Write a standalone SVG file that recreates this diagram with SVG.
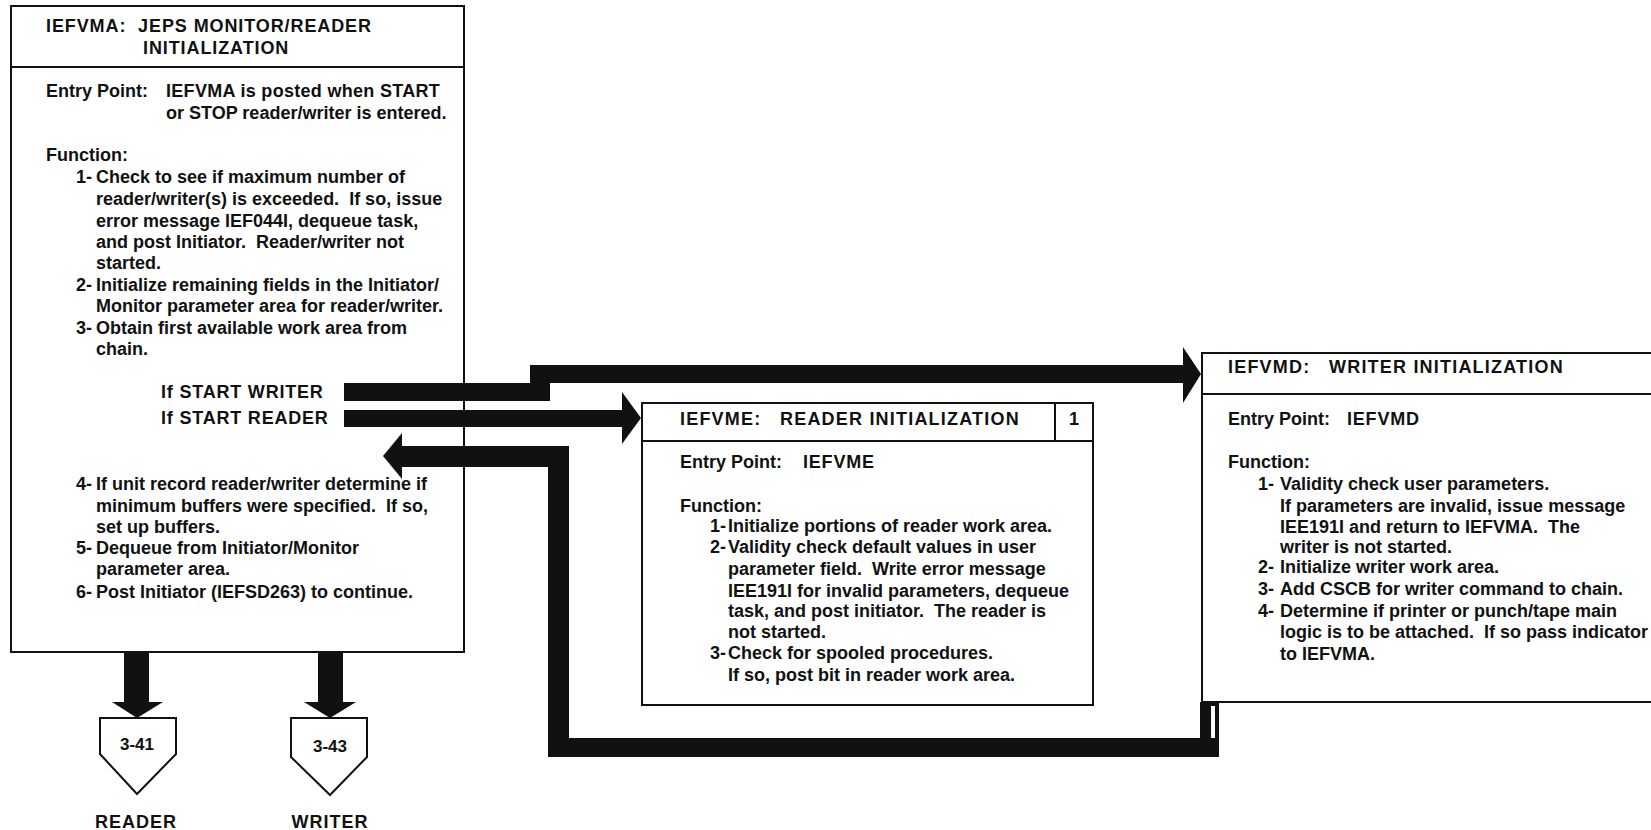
<svg xmlns="http://www.w3.org/2000/svg" width="1651" height="830" viewBox="0 0 1651 830">
  <style>
    text { font-family: "Liberation Sans", Arial, sans-serif; font-weight: bold; font-size: 18px; fill: #111; white-space: pre; }
    .title { letter-spacing: 1.2px; }
    .caps { letter-spacing: 0.8px; }
    .tight { letter-spacing: 0.3px; }
    .lbl { font-size: 17px; text-anchor: middle; }
    .foot { text-anchor: middle; letter-spacing: 1px; }
    .box { fill: #fff; stroke: #111; stroke-width: 2; }
    .rule { stroke: #111; stroke-width: 2; fill: none; }
    .bar { fill: #111; }
  </style>

  <!-- IEFVMA: monitor/reader initialization -->
  <g id="iefvma">
    <rect class="box" x="11" y="6" width="453" height="646"/>
    <line class="rule" x1="11" y1="67" x2="464" y2="67"/>
    <text class="title" x="46" y="32" style="letter-spacing:0.9px">IEFVMA:  JEPS MONITOR/READER</text>
    <text class="title" x="143" y="54" style="letter-spacing:0.9px">INITIALIZATION</text>
    <text x="46" y="97">Entry Point:</text>
    <text x="166" y="97" class="tight">IEFVMA is posted when START</text>
    <text x="166" y="119">or STOP reader/writer is entered.</text>
    <text x="46" y="161">Function:</text>
    <text x="76" y="183">1-<tspan x="96">Check to see if maximum number of</tspan></text>
    <text x="96" y="205">reader/writer(s) is exceeded.  If so, issue</text>
    <text x="96" y="227">error message IEF044I, dequeue task,</text>
    <text x="96" y="248">and post Initiator.  Reader/writer not</text>
    <text x="96" y="269">started.</text>
    <text x="76" y="291">2-<tspan x="96">Initialize remaining fields in the Initiator/</tspan></text>
    <text x="96" y="312">Monitor parameter area for reader/writer.</text>
    <text x="76" y="334">3-<tspan x="96">Obtain first available work area from</tspan></text>
    <text x="96" y="355">chain.</text>
    <text x="161" y="398" class="caps">If START WRITER</text>
    <text x="161" y="424" class="caps">If START READER</text>
    <text x="76" y="490">4-<tspan x="96">If unit record reader/writer determine if</tspan></text>
    <text x="96" y="512">minimum buffers were specified.  If so,</text>
    <text x="96" y="533">set up buffers.</text>
    <text x="76" y="554">5-<tspan x="96">Dequeue from Initiator/Monitor</tspan></text>
    <text x="96" y="575">parameter area.</text>
    <text x="76" y="598">6-<tspan x="96">Post Initiator (IEFSD263) to continue.</tspan></text>
  </g>

  <!-- IEFVME: reader initialization -->
  <g id="iefvme">
    <rect class="box" x="642" y="403" width="451" height="302"/>
    <line class="rule" x1="642" y1="441" x2="1093" y2="441"/>
    <line class="rule" x1="1055" y1="403" x2="1055" y2="441"/>
    <text class="title" x="680" y="425">IEFVME:   READER INITIALIZATION</text>
    <text x="1074" y="425" text-anchor="middle">1</text>
    <text x="680" y="468">Entry Point:</text>
    <text x="803" y="468" class="caps">IEFVME</text>
    <text x="680" y="512">Function:</text>
    <text x="710" y="532">1-<tspan x="728">Initialize portions of reader work area.</tspan></text>
    <text x="710" y="553">2-<tspan x="728">Validity check default values in user</tspan></text>
    <text x="728" y="575">parameter field.  Write error message</text>
    <text x="728" y="597">IEE191I for invalid parameters, dequeue</text>
    <text x="728" y="617">task, and post initiator.  The reader is</text>
    <text x="728" y="638">not started.</text>
    <text x="710" y="659">3-<tspan x="728">Check for spooled procedures.</tspan></text>
    <text x="728" y="681">If so, post bit in reader work area.</text>
  </g>

  <!-- IEFVMD: writer initialization (runs off the right edge) -->
  <g id="iefvmd">
    <rect x="1202" y="353" width="460" height="349" fill="#fff"/>
    <polyline class="rule" points="1660,353 1202,353 1202,702 1660,702"/>
    <line class="rule" x1="1202" y1="394" x2="1660" y2="394"/>
    <text class="title" x="1228" y="373">IEFVMD:   WRITER INITIALIZATION</text>
    <text x="1228" y="425">Entry Point:</text>
    <text x="1347" y="425" class="caps">IEFVMD</text>
    <text x="1228" y="468">Function:</text>
    <text x="1258" y="490">1-<tspan x="1280">Validity check user parameters.</tspan></text>
    <text x="1280" y="512">If parameters are invalid, issue message</text>
    <text x="1280" y="533">IEE191I and return to IEFVMA.  The</text>
    <text x="1280" y="553">writer is not started.</text>
    <text x="1258" y="573">2-<tspan x="1280">Initialize writer work area.</tspan></text>
    <text x="1258" y="595">3-<tspan x="1280">Add CSCB for writer command to chain.</tspan></text>
    <text x="1258" y="617">4-<tspan x="1280">Determine if printer or punch/tape main</tspan></text>
    <text x="1280" y="638">logic is to be attached.  If so pass indicator</text>
    <text x="1280" y="660">to IEFVMA.</text>
  </g>

  <!-- off-page connector: reader -->
  <g id="page-3-41">
    <polygon class="box" points="100,718 176,718 176,754 137,794 100,754"/>
    <text class="lbl" x="137" y="750">3-41</text>
    <text class="foot" x="136" y="828">READER</text>
  </g>

  <!-- off-page connector: writer -->
  <g id="page-3-43">
    <polygon class="box" points="291,718 367,718 367,757 330,795 291,757"/>
    <text class="lbl" x="330" y="752">3-43</text>
    <text class="foot" x="330" y="828">WRITER</text>
  </g>

  <!-- heavy flow arrows -->
  <g id="connectors">
    <!-- START WRITER to IEFVMD -->
    <polygon class="bar" points="344,383 530,383 530,365 1184,365 1184,383 550,383 550,401 344,401"/>
    <polygon class="bar" points="1183,347 1201,374 1183,403"/>
    <!-- START READER to IEFVME -->
    <rect class="bar" x="344" y="410" width="279" height="17"/>
    <polygon class="bar" points="622,392 641,418 622,444"/>
    <!-- return from IEFVMD to IEFVMA -->
    <rect class="bar" x="1200" y="702" width="19" height="55"/>
    <rect x="1211" y="706" width="4" height="48" fill="#fff"/>
    <rect class="bar" x="548" y="738" width="671" height="19"/>
    <rect class="bar" x="548" y="446" width="21" height="311"/>
    <rect class="bar" x="401" y="446" width="168" height="21"/>
    <polygon class="bar" points="402,433 383,456 402,479"/>
    <!-- exits to off-page connectors -->
    <rect class="bar" x="124" y="652" width="25" height="51"/>
    <polygon class="bar" points="112,702 163,702 137,718"/>
    <rect class="bar" x="318" y="652" width="25" height="51"/>
    <polygon class="bar" points="304,702 356,702 330,718"/>
  </g>
</svg>
